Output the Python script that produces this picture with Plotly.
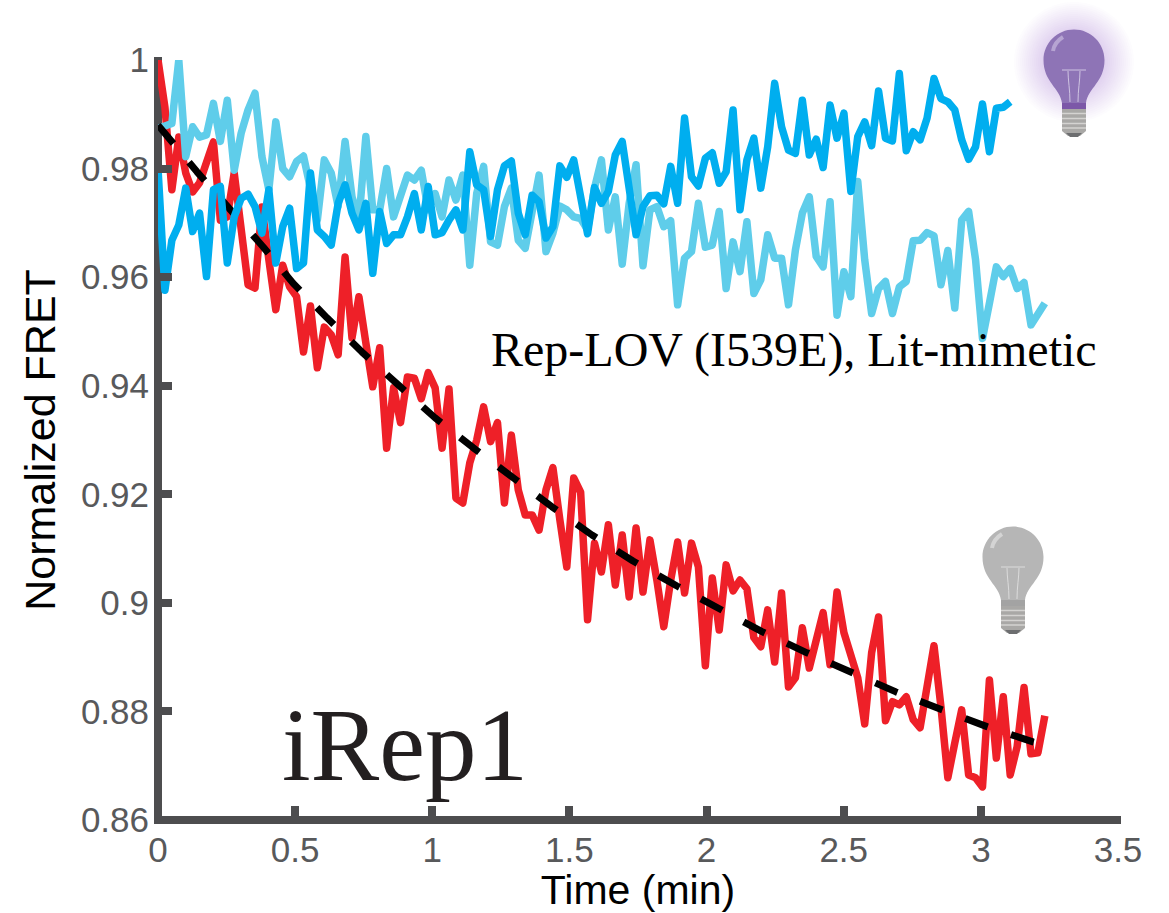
import plotly.graph_objects as go

x_ticks = [0, 0.5, 1, 1.5, 2, 2.5, 3, 3.5]
x_tick_labels = ["0", "0.5", "1", "1.5", "2", "2.5", "3", "3.5"]
y_ticks = [0.86, 0.88, 0.9, 0.92, 0.94, 0.96, 0.98, 1]
y_tick_labels = ["0.86", "0.88", "0.9", "0.92", "0.94", "0.96", "0.98", "1"]

sample_step_min = 0.02526

red_trace = [
 1.0,.9913,.9761,.9858,.9792,.9757,.9774,.9812,.9849,.9705,.9711,.9792,.9692,.9586,.9580,.9729,
 .9632,.9540,.9622,.9582,.9564,.9462,.9547,.9433,.9508,.9494,.9457,.9637,.9488,.9564,.9479,.9398,
 .9470,.9285,.9396,.9332,.9416,.9414,.9376,.9424,.9396,.9285,.9394,.9193,.9184,.9258,.9300,.9361,
 .9297,.9332,.9184,.9309,.9208,.9162,.9162,.9134,.9208,.9249,.9153,.9066,.9230,.9204,.8969,.9110,
 .9057,.9144,.9033,.9125,.9011,.9138,.9020,.9116,.9042,.8956,.9042,.9112,.9018,.9110,.9066,.8884,
 .9046,.8950,.9070,.9022,.9042,.9026,.8936,.8919,.8987,.8891,.9018,.8845,.8862,.8954,.8880,.8932,
 .8982,.8886,.9020,.8945,.8901,.8862,.8777,.8908,.8974,.8783,.8818,.8812,.8827,.8785,.8770,.8840,
 .8921,.8809,.8678,.8742,.8803,.8683,.8678,.8661,.8858,.8714,.8827,.8683,.8735,.8844,.8722,.8724,
 .8792,
]

light_blue_trace = [
 .9874,.9880,.9883,1.0,.9822,.9877,.9858,.9862,.9920,.9850,.9926,.9797,.9865,.9908,.9939,.9822,
 .9761,.9886,.9800,.9785,.9813,.9823,.9761,.9705,.9816,.9792,.9730,.9850,.9748,.9705,.9859,.9724,
 .9724,.9800,.9711,.9754,.9788,.9779,.9797,.9724,.9754,.9711,.9779,.9742,.9788,.9622,
 .9754,.9804,.9665,.9659,.9730,.9764,.9668,.9653,.9730,.9788,.9647,.9681,.9731,.9724,.9711,.9708,
 .9687,.9764,.9816,.9687,.9748,.9624,.9736,.9807,.9621,.9724,.9730,.9693,.9704,.9549,.9635,.9647,
 .9736,.9655,.9659,.9721,.9579,.9665,.9610,.9702,.9570,.9595,.9678,.9635,.9635,
 .9549,.9650,.9718,.9748,.9638,.9619,.9739,.9530,.9610,.9564,.9776,.9632,.9533,.9579,.9592,.9533,
 .9582,.9592,.9667,.9668,.9682,.9676,.9586,.9649,.9543,.9705,.9721,.9632,.9487,.9552,.9619,.9601,
 .9616,.9579,.9590,.9512,.9533,.9552,
]

dark_blue_trace = [
 .9800,.9576,.9668,.9696,.9764,.9684,.9718,.9601,.9761,.9767,.9626,.9711,.9745,.9753,.9730,.9681,
 .9761,.9626,.9693,.9727,.9616,.9626,.9792,.9687,.9675,.9659,.9736,.9770,.9718,.9687,.9736,.9607,
 .9721,.9662,.9678,.9678,.9711,.9754,.9687,.9767,.9678,.9682,.9705,.9724,.9687,.9831,
 .9770,.9761,.9675,.9761,.9805,.9814,.9718,.9678,.9751,.9739,.9672,.9693,.9805,.9784,.9816,.9745,
 .9680,.9765,.9736,.9758,.9825,.9850,.9761,.9678,.9730,.9750,.9751,.9735,.9804,.9736,.9893,.9785,
 .9768,.9819,.9829,.9773,.9794,.9908,.9724,.9816,.9856,.9764,.9840,.9957,.9877,
 .9834,.9828,.9926,.9825,.9854,.9802,.9917,.9856,.9902,.9758,.9859,.9886,.9842,.9943,.9856,.9851,
 .9975,.9833,.9868,.9853,.9893,.9966,.9929,.9923,.9908,.9853,.9817,.9840,.9919,.9831,.9911,.9913,
 .9923,
]

fit_time = [0, .1422, .3828, .4922, .6161, .7437, .8750, 1.0098, 1.1484, 1.2942, 1.4364, 1.5822,
            1.7317, 1.8921, 2.0416, 2.2019, 2.3660, 2.5264, 2.6905, 2.8582, 3.0222, 3.1899, 3.2300]
fit_value = [.9880, .9794, .9656, .9589, .9525, .9462, .9402, .9341, .9286, .9230, .9177, .9125,
             .9077, .9031, .8989, .8947, .8908, .8871, .8836, .8803, .8772, .8744, .8739]

W, H = 1169, 913
L, R, T, B = 158, 1118, 60, 820
AXIS = "#4d4d4f"

def times(values):
    return [i * sample_step_min for i in range(len(values))]

fig = go.Figure()
def add_line(x, y, color, width, dash=None):
    fig.add_trace(go.Scatter(x=x, y=y, mode="lines", cliponaxis=False, showlegend=False,
                             hoverinfo="skip",
                             line=dict(color=color, width=width, dash=dash, shape="linear")))

add_line(times(red_trace), red_trace, "#ee2028", 7.5)
add_line(times(light_blue_trace), light_blue_trace, "#5fcdea", 7.5)
add_line(fit_time, fit_value, "#000000", 7, "24px,24.4px")
add_line(times(dark_blue_trace), dark_blue_trace, "#00aeef", 7.5)

def px(x): return (x - L) / (R - L)
def py(y): return (B - y) / (B - T)

# heavy spines centred on x=0 and y=0.86, as in the reference
fig.add_shape(type="line", layer="below", xref="paper", yref="paper", x0=px(L), x1=px(L), y0=py(B + 4), y1=py(T - 3),
              line=dict(color=AXIS, width=8))
fig.add_shape(type="line", layer="below", xref="paper", yref="paper", x0=px(L - 4), x1=px(R + 3), y0=py(B), y1=py(B),
              line=dict(color=AXIS, width=8))

def pth(cx, cy, cmds):
    out = []
    for c in cmds:
        if isinstance(c, str):
            out.append(c)
        else:
            out.append(f"{px(cx + c[0]):.5f},{py(cy + c[1]):.5f}")
    return " ".join(out)

def shape(cx, cy, cmds, fill=None, line=None, lw=0, opacity=1.0):
    fig.add_shape(type="path", xref="paper", yref="paper", layer="above", opacity=opacity,
                  path=pth(cx, cy, cmds), fillcolor=fill if fill else "rgba(0,0,0,0)",
                  line=dict(color=line if line else "rgba(0,0,0,0)", width=lw))

def circle(cx, cy, r, fill, opacity):
    k = 0.5523 * r
    shape(cx, cy, ["M", (-r, 0), "C", (-r, -k), (-k, -r), (0, -r), "C", (k, -r), (r, -k), (r, 0),
                   "C", (r, k), (k, r), (0, r), "C", (-k, r), (-r, k), (-r, 0), "Z"], fill=fill, opacity=opacity)

def bulb(cx, cy, body, collar, high, fil, glow=None):
    if glow:
        for r in range(60, 30, -2):
            circle(cx, cy + 2, r, glow, .018)
    r = 30.5
    k = 0.5523 * r
    shape(cx, cy, ["M", (-12, 43), "C", (-14, 28), (-r, 22), (-r, 0), "C", (-r, -k), (-k, -r), (0, -r),
                   "C", (k, -r), (r, -k), (r, 0), "C", (r, 22), (14, 28), (12, 43), "Z"], fill=body)
    shape(cx, cy, ["M", (-21, -9), "C", (-20, -15), (-16, -20), (-11, -23)], line=high, lw=4)
    shape(cx, cy, ["M", (-12, 10), "L", (12, 10)], line=fil, lw=1)
    shape(cx, cy, ["M", (-6, 11), "C", (-6, 20), (-4, 30), (-4, 42)], line=fil, lw=1)
    shape(cx, cy, ["M", (6, 11), "C", (6, 20), (4, 30), (4, 42)], line=fil, lw=1)
    shape(cx, cy, ["M", (-12, 49), "L", (-12, 43), "L", (12, 43), "L", (12, 49), "Z"], fill=collar)
    shape(cx, cy, ["M", (-12, 49), "L", (12, 49), "L", (12, 71), "L", (6, 76), "L", (-6, 76), "L", (-12, 71), "Z"],
          fill="#a9a8a6")
    for yy in (53.5, 58.5, 63.5, 68):
        shape(cx, cy, ["M", (-12, yy), "L", (12, yy)], line="#d4d3d1", lw=1.5)
    shape(cx, cy, ["M", (-8, 73), "L", (8, 73), "L", (4, 77), "L", (-4, 77), "Z"], fill="#6d6e70")

bulb(1074, 60, "#8e74b6", "#7c58a8", "#b6a4d2", "#cfc4e2", glow="#8e74b6")
bulb(1013, 557, "#b6b6b6", "#a3a3a3", "#d4d4d4", "#dcdcdc")

fig.add_annotation(xref="paper", yref="paper", x=px(794), y=py(350), xanchor="center", yanchor="middle",
                   showarrow=False, text="Rep-LOV (I539E), Lit-mimetic",
                   font=dict(family="Liberation Serif", size=48, color="#000000"))
fig.add_annotation(xref="paper", yref="paper", x=px(405), y=py(745), xanchor="center", yanchor="middle",
                   showarrow=False, text="iRep1",
                   font=dict(family="Liberation Serif", size=103, color="#231f20"))

axis_common = dict(showgrid=False, zeroline=False, showline=False,
                   ticks="inside", tickcolor=AXIS, tickwidth=8, ticklen=14, automargin=False,
                   tickfont=dict(family="Liberation Sans", size=35, color="#58595b"))

fig.update_layout(
    width=W, height=H, paper_bgcolor="white", plot_bgcolor="white", showlegend=False,
    margin=dict(l=L, r=W - R, t=T, b=H - B),
    xaxis=dict(range=[0, 3.5], tickvals=x_ticks, ticktext=x_tick_labels, ticklabelstandoff=6,
               title=dict(text="Time (min)", standoff=4,
                          font=dict(family="Liberation Sans", size=41, color="#000000")), **axis_common),
    yaxis=dict(range=[0.86, 1], tickvals=y_ticks, ticktext=y_tick_labels, ticklabelstandoff=8,
               title=dict(text="Normalized FRET", standoff=11,
                          font=dict(family="Liberation Sans", size=43, color="#000000")), **axis_common),
)

fig.write_html("out.html", config={"displayModeBar": False},
               post_script="document.body.style.margin='0';document.body.style.overflow='hidden';"
                           "document.querySelectorAll('.js-line').forEach(p=>p.style.strokeLinejoin='round');")
